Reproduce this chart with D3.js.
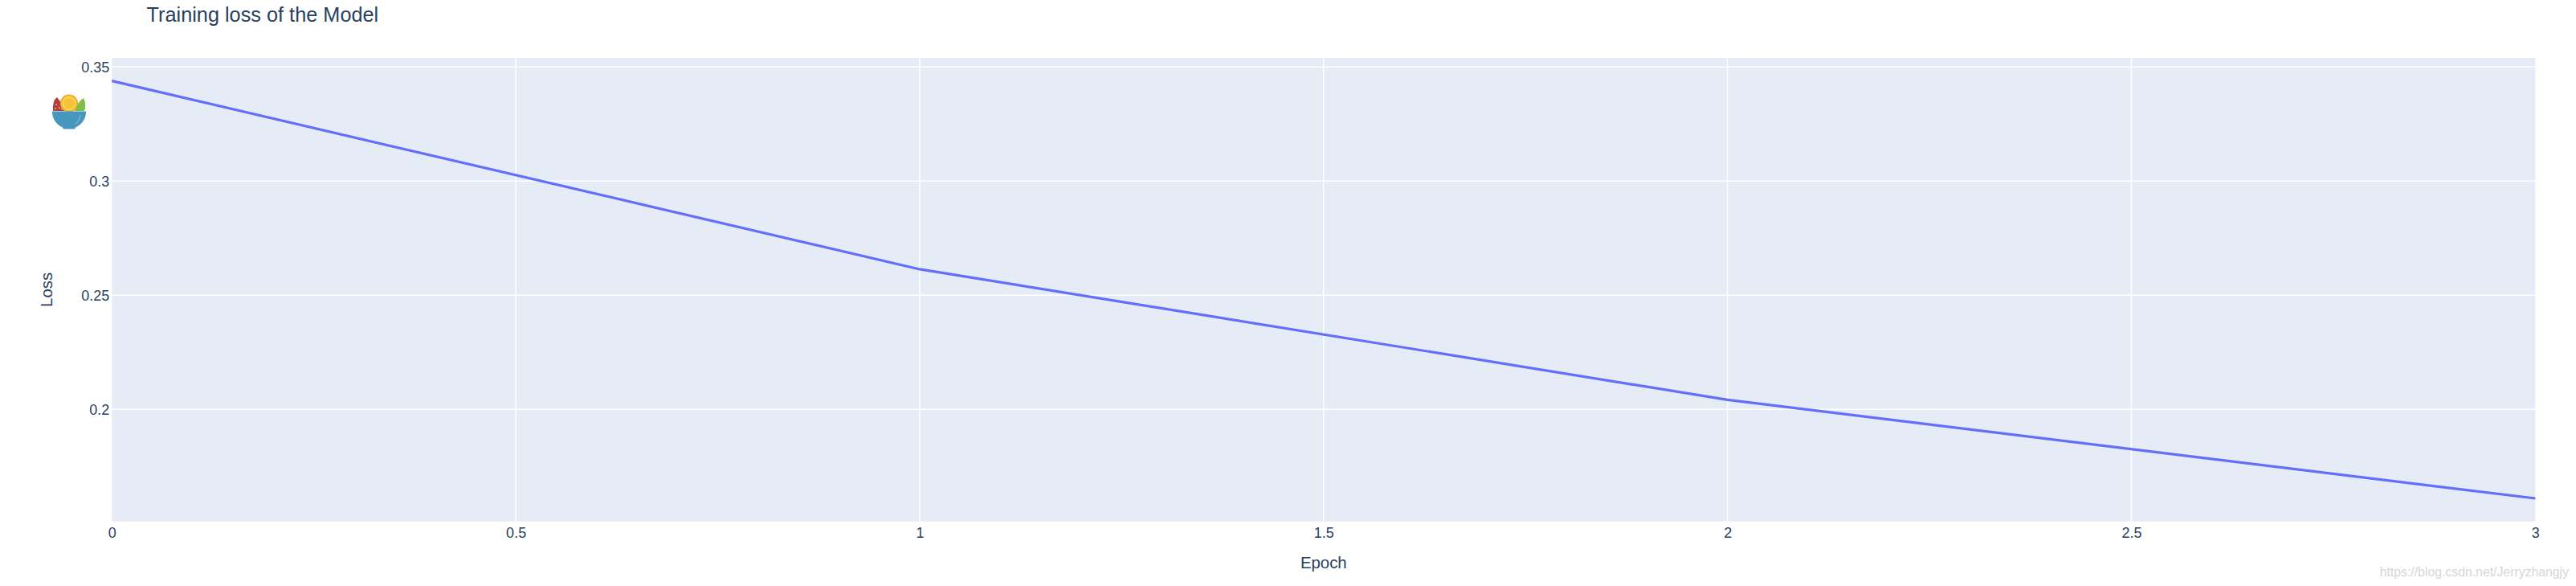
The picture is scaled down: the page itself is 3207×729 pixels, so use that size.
<!doctype html>
<html lang="en">
<head>
    <meta charset="utf-8">
    <title>Training loss of the Model</title>
    <script src="https://d3js.org/d3.v7.min.js"></script>
    <style>
        body { margin: 0; padding: 0; background: #fff; }
        svg { display: block; font-family: "Liberation Sans", Arial, sans-serif; }
        .tick text { fill: #2a3f5f; font-size: 18px; }
    </style>
</head>
<body>
    <div class="home"></div>
    <script>
        // data
        const epochs = [0, 1, 2, 3];
        const loss = [0.3439, 0.2614, 0.2042, 0.1610];
        const xTicks = [0, 0.5, 1, 1.5, 2, 2.5, 3];
        const yTicks = [0.2, 0.25, 0.3, 0.35];

        var width = 3207, height = 729;
        // plot frame
        const m = {left: 139.3, right: 3156.3, top: 72, bottom: 648.7};

        const svg = d3.select(".home").append("svg")
            .attr("width", width)
            .attr("height", height);

        const x = d3.scaleLinear().domain([0, 3]).range([m.left, m.right]);
        const y = d3.scaleLinear().domain([0.1509, 0.354]).range([m.bottom, m.top]);

        // plot background
        svg.append("rect")
            .attr("x", m.left).attr("y", m.top)
            .attr("width", m.right - m.left).attr("height", m.bottom - m.top)
            .attr("fill", "#e5ecf6");

        // grid
        const grid = svg.append("g").attr("class", "grid");
        grid.selectAll("line.gx")
            .data(xTicks.slice(1, -1))
            .join("line")
            .attr("class", "gx")
            .attr("x1", d => x(d)).attr("x2", d => x(d))
            .attr("y1", m.top).attr("y2", m.bottom)
            .attr("stroke", "#fff").attr("stroke-width", 1.5);
        grid.selectAll("line.gy")
            .data(yTicks)
            .join("line")
            .attr("class", "gy")
            .attr("x1", m.left).attr("x2", m.right)
            .attr("y1", d => y(d)).attr("y2", d => y(d))
            .attr("stroke", "#fff").attr("stroke-width", 1.5);

        // axes, labels only
        const fmt = d3.format("~g");
        const xAxis = svg.append("g")
            .attr("transform", `translate(0,${m.bottom})`)
            .call(d3.axisBottom(x).tickValues(xTicks).tickSize(0).tickPadding(8).tickFormat(fmt));
        xAxis.select(".domain").remove();
        xAxis.attr("font-family", null).attr("font-size", null);

        const yAxis = svg.append("g")
            .attr("transform", `translate(${m.left},0)`)
            .call(d3.axisLeft(y).tickValues(yTicks).tickSize(0).tickPadding(3).tickFormat(fmt));
        yAxis.select(".domain").remove();
        yAxis.attr("font-family", null).attr("font-size", null);

        // the loss line
        const line = d3.line().x((d, i) => x(epochs[i])).y(d => y(d));
        svg.append("path")
            .datum(loss)
            .attr("d", line)
            .attr("fill", "none")
            .attr("stroke", "#636efa")
            .attr("stroke-width", 3.2)
            .attr("stroke-linejoin", "round");

        // titles
        svg.append("text")
            .attr("x", 182.5).attr("y", 26.7)
            .attr("fill", "#2a3f5f")
            .attr("font-size", 25.3)
            .text("Training loss of the Model");

        svg.append("text")
            .attr("x", (m.left + m.right) / 2).attr("y", 707)
            .attr("text-anchor", "middle")
            .attr("fill", "#2a3f5f")
            .attr("font-size", 20.4)
            .text("Epoch");

        svg.append("text")
            .attr("transform", `translate(65,${(m.top + m.bottom) / 2}) rotate(-90)`)
            .attr("text-anchor", "middle")
            .attr("fill", "#2a3f5f")
            .attr("font-size", 20.4)
            .text("Loss");

        // little bowl icon at the left
        const icon = svg.append("g").attr("class", "icon");
        icon.append("path")   // red wedge
            .attr("d", "M66,138 Q65,125 71,121 L84,138 Z")
            .attr("fill", "#b0423c");
        icon.selectAll("circle.dot")
            .data([[70, 130], [74, 134], [69, 135], [77, 136]])
            .join("circle")
            .attr("class", "dot")
            .attr("cx", d => d[0]).attr("cy", d => d[1]).attr("r", 0.9)
            .attr("fill", "#e8b5a8");
        icon.append("path")   // green leaf
            .attr("d", "M93,138 Q98,125 104,122 Q108,130 105,138 Z")
            .attr("fill", "#7cbf4b");
        icon.append("circle") // lemon slice
            .attr("cx", 86).attr("cy", 128.5).attr("r", 10.5)
            .attr("fill", "#f6c338").attr("stroke", "#f0a020").attr("stroke-width", 1.2);
        icon.append("circle")
            .attr("cx", 86).attr("cy", 128.5).attr("r", 7.5)
            .attr("fill", "none").attr("stroke", "#fde07a").attr("stroke-width", 1);
        icon.append("path")   // bowl
            .attr("d", "M65,138.5 L107,138.5 A21,21 0 0 1 94,158.5 L93,160.5 L79,160.5 L78,158.5 A21,21 0 0 1 65,138.5 Z")
            .attr("fill", "#4796bd");
        icon.append("path")
            .attr("d", "M100,143 A16,16 0 0 1 94,154")
            .attr("fill", "none").attr("stroke", "#7ab8d6").attr("stroke-width", 1.2);

        // watermark
        svg.append("text")
            .attr("x", 3198).attr("y", 716.5)
            .attr("text-anchor", "end")
            .attr("fill", "#d6d6d6")
            .attr("font-size", 15.8)
            .text("https://blog.csdn.net/Jerryzhangjy");
    </script>
</body>
</html>
